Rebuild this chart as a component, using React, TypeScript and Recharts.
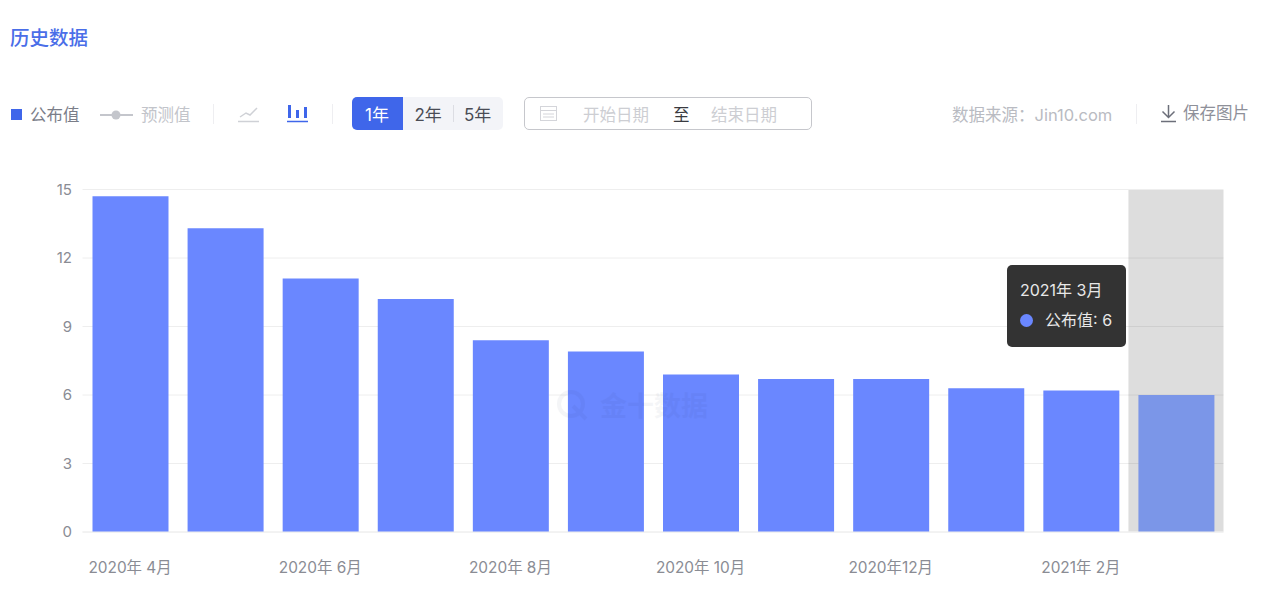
import { BarChart, Bar, Cell, XAxis, YAxis, CartesianGrid, Tooltip } from "recharts";

const months = ["2020年 4月", "2020年 5月", "2020年 6月", "2020年 7月", "2020年 8月", "2020年 9月", "2020年 10月", "2020年 11月", "2020年12月", "2021年 1月", "2021年 2月", "2021年 3月"];
const published = [14.7, 13.3, 11.1, 10.2, 8.4, 7.9, 6.9, 6.7, 6.7, 6.3, 6.2, 6];
const yTicks = [0, 3, 6, 9, 12, 15];
const rangeButtons = ["1年", "2年", "5年"];

const chartData = months.map((m, i) => ({ month: m, value: published[i] }));
const font = 'Inter, "Noto Sans CJK SC", sans-serif';

function Tip({ active, payload, label }: any) {
  if (!active || !payload || !payload.length) return null;
  return (
    <div style={{ width: 119, height: 82, boxSizing: "border-box", background: "#333", borderRadius: 5, padding: "14px 0 0 13px", color: "#e8e8e8", fontSize: 16, fontFamily: font, lineHeight: "22px", whiteSpace: "nowrap" }}>
      <div>{label}</div>
      <div style={{ display: "flex", alignItems: "center", marginTop: 8 }}>
        <span style={{ width: 13, height: 13, borderRadius: "50%", background: "#6a87ff", marginRight: 12 }} />
        公布值: {payload[0].value}
      </div>
    </div>
  );
}

function At({ x, y, color, size = 16.5, children }: any) {
  return <div style={{ position: "absolute", left: x, top: y, color, fontSize: size, lineHeight: "20px", whiteSpace: "nowrap" }}>{children}</div>;
}

function Divider({ x }: { x: number }) {
  return <div style={{ position: "absolute", left: x, top: 104, width: 1, height: 20, background: "#eeeef1" }} />;
}

export default function App() {
  return (
    <div style={{ position: "absolute", left: 0, top: 0, width: 1280, height: 613, background: "#fff", fontFamily: font, overflow: "hidden" }}>
      <At x={10} y={28} color="#4a6ee8" size={19.5}><b style={{ fontWeight: 500 }}>历史数据</b></At>

      {/* legend */}
      <div style={{ position: "absolute", left: 11, top: 109, width: 11, height: 11, background: "#3f66ea" }} />
      <At x={30} y={105} color="#7a7d88">公布值</At>
      <svg style={{ position: "absolute", left: 100, top: 108 }} width="34" height="14">
        <line x1="0" y1="7" x2="33" y2="7" stroke="#c4c6cc" strokeWidth="2" />
        <circle cx="16" cy="7" r="4.5" fill="#c4c6cc" />
      </svg>
      <At x={141} y={105} color="#c2c4ca">预测值</At>
      <Divider x={213} />
      <svg style={{ position: "absolute", left: 237, top: 104 }} width="24" height="20" fill="none">
        <path d="M3 13 L9 9 L13 11 L20 4" stroke="#cfd1d6" strokeWidth="1.5" />
        <line x1="1" y1="17.5" x2="22" y2="17.5" stroke="#cfd1d6" strokeWidth="1.5" />
      </svg>
      <svg style={{ position: "absolute", left: 287, top: 104 }} width="22" height="20" fill="none">
        <path d="M2.5 1 V14 M10.5 6 V14 M18.5 3 V14" stroke="#3f66ea" strokeWidth="3" />
        <line x1="0" y1="17.5" x2="21" y2="17.5" stroke="#3f66ea" strokeWidth="1.5" />
      </svg>
      <Divider x={332} />

      {/* range buttons */}
      <div style={{ position: "absolute", left: 352, top: 97, width: 151, height: 33, background: "#f3f4f8", borderRadius: 5 }} />
      <div style={{ position: "absolute", left: 352, top: 97, width: 51, height: 33, background: "#3f66ea", borderRadius: "5px 0 0 5px" }} />
      <div style={{ position: "absolute", left: 453, top: 105, width: 1, height: 17, background: "#dcdde3" }} />
      {rangeButtons.map((r, i) => (
        <At key={r} x={365 + i * 49.5} y={105} color={i === 0 ? "#fff" : "#4a4c55"} size={17}>{r}</At>
      ))}

      {/* date range */}
      <div style={{ position: "absolute", left: 524, top: 97, width: 288, height: 33, boxSizing: "border-box", border: "1px solid #c6c7cc", borderRadius: 5 }} />
      <svg style={{ position: "absolute", left: 540, top: 105 }} width="18" height="17" fill="none" stroke="#d4d5da">
        <rect x="0.5" y="1.5" width="16" height="14" />
        <path d="M0.5 5.5 H16.5 M3 9 H14 M3 12 H14" />
      </svg>
      <At x={583} y={105} color="#cdced3">开始日期</At>
      <At x={673} y={105} color="#3a3b40" size={16.5}>至</At>
      <At x={711} y={105} color="#cdced3">结束日期</At>

      {/* source and save */}
      <At x={952} y={105} color="#b9bbc2">数据来源：Jin10.com</At>
      <div style={{ position: "absolute", left: 1136, top: 104, width: 1, height: 20, background: "#eeeef1" }} />
      <svg style={{ position: "absolute", left: 1160, top: 104 }} width="18" height="20" fill="none" stroke="#6c6f7a" strokeWidth="1.5">
        <path d="M8.5 1 V13 M2.5 7.5 L8.5 13.5 L14.5 7.5 M1 17.5 H16" />
      </svg>
      <At x={1183} y={103} color="#8e9099">保存图片</At>

      <div style={{ position: "absolute", left: 0, top: 0 }}>
        <BarChart width={1280} height={613} data={chartData} margin={{ top: 189.5, right: 56.5, bottom: 0, left: 0 }} barSize={76}>
          <CartesianGrid vertical={false} stroke="#eeeeee" />
          <XAxis
            dataKey="month"
            interval={1}
            axisLine={{ stroke: "#eeeeee" }}
            tickLine={false}
            height={81}
            tickMargin={24}
            tick={{ fill: "#8a8c94", fontSize: 15.4, fontFamily: font }}
          />
          <YAxis
            domain={[0, 15]}
            ticks={yTicks}
            axisLine={false}
            tickLine={false}
            width={82.5}
            tickMargin={4.5}
            tick={{ fill: "#8a8c94", fontSize: 15, fontFamily: font }}
          />
          <Tooltip
            defaultIndex={11}
            position={{ x: 1007, y: 265 }}
            allowEscapeViewBox={{ x: true, y: true }}
            cursor={{ fill: "rgba(0,0,0,0.135)" }}
            content={<Tip />}
            isAnimationActive={false}
          />
          <Bar dataKey="value" isAnimationActive={false} fill="#6a87ff">
            {chartData.map((d, i) => (
              <Cell key={d.month} fill={i === 11 ? "#7b96e8" : "#6a87ff"} />
            ))}
          </Bar>
        </BarChart>
      </div>

      {/* watermark */}
      <div style={{ position: "absolute", left: 556, top: 385, display: "flex", alignItems: "center", opacity: 0.045, color: "#203060", fontSize: 27, fontWeight: 700, pointerEvents: "none" }}>
        <svg width="34" height="32" fill="none" stroke="#203060" strokeWidth="4" style={{ marginRight: 10 }}>
          <circle cx="15" cy="15" r="12" />
          <path d="M17 17 L30 30" />
        </svg>
        金十数据
      </div>
    </div>
  );
}
